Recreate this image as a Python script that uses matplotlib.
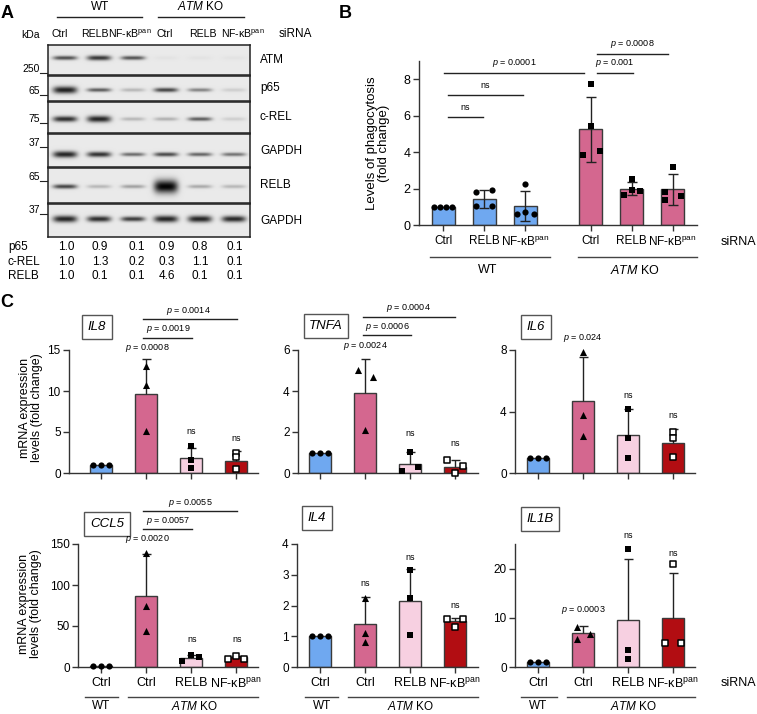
import numpy as np
import matplotlib
matplotlib.use('Agg')
import matplotlib.pyplot as plt
from matplotlib.lines import Line2D

plt.rcParams['font.family'] = ['Liberation Sans', 'DejaVu Sans']
plt.rcParams['mathtext.fontset'] = 'custom'
plt.rcParams['mathtext.rm'] = 'Liberation Sans'
plt.rcParams['mathtext.it'] = 'Liberation Sans:italic'

NFKB = 'NF-κB$^{\\mathrm{pan}}$'

# ---------------- data: panel A (western blot) ----------------
blot_names = ['ATM', 'p65', 'c-REL', 'GAPDH', 'RELB', 'GAPDH']
kda_marks = ['250', '65', '75', '37', '65', '37']
lane_labels = ['Ctrl', 'RELB', NFKB, 'Ctrl', 'RELB', NFKB]
band_atm = [0.68, 0.78, 0.66, 0.03, 0.03, 0.03]
band_p65 = [0.88, 0.62, 0.22, 0.72, 0.45, 0.12]
band_crel = [0.82, 0.86, 0.22, 0.25, 0.62, 0.12]
band_gapdh1 = [0.86, 0.80, 0.55, 0.70, 0.58, 0.52]
band_relb = [0.72, 0.22, 0.32, 1.00, 0.28, 0.22]
band_gapdh2 = [0.86, 0.82, 0.76, 0.86, 0.86, 0.84]
quant_names = ['p65', 'c-REL', 'RELB']
quant_p65 = [1.0, 0.9, 0.1, 0.9, 0.8, 0.1]
quant_crel = [1.0, 1.3, 0.2, 0.3, 1.1, 0.1]
quant_relb = [1.0, 0.1, 0.1, 4.6, 0.1, 0.1]

# ---------------- data: panel B (phagocytosis) ----------------
b_labels = ['Ctrl', 'RELB', NFKB, 'Ctrl', 'RELB', NFKB]
b_mean = [1.0, 1.42, 1.05, 5.25, 2.0, 1.95]
b_sd = [0.0, 0.5, 0.81, 1.78, 0.38, 0.83]
b_pts = [[1.0, 1.0, 1.0, 1.0],
         [1.79, 1.90, 1.02, 1.06],
         [2.26, 0.62, 0.71, 0.62],
         [7.73, 5.44, 3.84, 4.07],
         [2.54, 1.66, 1.94, 1.88],
         [3.21, 1.79, 1.35, 1.57]]

# ---------------- data: panel C (mRNA levels) ----------------
c_labels = ['Ctrl', 'Ctrl', 'RELB', NFKB]
il8_mean = [1.0, 9.65, 1.8, 1.5]
il8_err = [0.0, 4.25, 1.2, 1.2]
il8_pts = [[1, 1, 1], [13.05, 10.74, 5.07], [3.3, 1.6, 0.6], [2.5, 1.9, 0.45]]
tnfa_mean = [1.0, 3.92, 0.46, 0.30]
tnfa_err = [0.0, 1.62, 0.57, 0.32]
tnfa_pts = [[1, 1, 1], [5.02, 4.67, 2.09], [1.03, 0.29, 0.08], [0.62, 0.34, 0.0]]
il6_mean = [1.0, 4.71, 2.44, 1.95]
il6_err = [0.0, 2.86, 1.73, 0.93]
il6_pts = [[1, 1, 1], [7.85, 3.78, 2.4], [4.17, 2.29, 0.99], [2.66, 2.29, 1.04]]
ccl5_mean = [1.0, 87.0, 11.0, 12.0]
ccl5_err = [0.0, 51.0, 4.0, 2.0]
ccl5_pts = [[1, 1, 1], [138.7, 75.0, 43.8], [7.0, 14.2, 12.2], [10.2, 13.4, 10.2]]
il4_mean = [1.0, 1.40, 2.14, 1.50]
il4_err = [0.0, 0.88, 1.05, 0.10]
il4_pts = [[1, 1, 1], [2.24, 1.1, 0.8], [3.17, 2.24, 1.05], [1.55, 1.3, 1.55]]
il1b_mean = [1.0, 6.94, 9.56, 9.97]
il1b_err = [0.0, 1.41, 12.3, 9.1]
il1b_pts = [[1, 1, 1], [8.2, 5.7, 6.7], [23.9, 3.5, 1.7], [20.9, 4.85, 4.85]]

# ---------------- styles ----------------
WT_BLUE = '#6fa8f0'
KO_PINK = '#d4678f'
RELB_PINK = '#f7d0e1'
NF_RED = '#b20d12'
EDGE = '#3a3a3a'
INK = '#222222'

W, H = 757, 714
fig = plt.figure(figsize=(W / 100, H / 100), dpi=100)


def add_ax(x0, y0, x1, y1):
    return fig.add_axes([x0 / W, 1 - y1 / H, (x1 - x0) / W, (y1 - y0) / H])


def txt(x, y, s, size=8.5, ha='center', va='center', **kw):
    fig.text(x / W, 1 - y / H, s, fontsize=size, ha=ha, va=va, **kw)


def hline(x0, x1, y, lw=1.0, color=INK):
    fig.add_artist(Line2D([x0 / W, x1 / W], [1 - y / H, 1 - y / H], color=color, lw=lw))


def style_axis(ax):
    for side in ['top', 'right']:
        ax.spines[side].set_visible(False)
    for side in ['left', 'bottom']:
        ax.spines[side].set_color('#333333')
        ax.spines[side].set_linewidth(1.0)
    ax.tick_params(direction='out', length=4, width=1, color='#333333', labelsize=8.5, pad=2)


# ================= panel A =================
txt(7, 13, 'A', size=13, weight='bold')
LANE_X = [65, 99, 133, 166, 200, 234]
BLOT_X0, BLOT_X1 = 48, 250
blot_rows = [(45, 75, band_atm, 0.43), (76, 101, band_p65, 0.56),
             (102, 133, band_crel, 0.55), (134, 167, band_gapdh1, 0.62),
             (168, 203, band_relb, 0.53), (204, 237, band_gapdh2, 0.47)]

for k, (top, bot, dens, frac) in enumerate(blot_rows):
    ax = add_ax(BLOT_X0, top, BLOT_X1, bot)
    w = BLOT_X1 - BLOT_X0
    h = bot - top
    xx, yy = np.meshgrid(np.linspace(0, w, w * 3), np.linspace(0, h, h * 3))
    img = np.full(xx.shape, 0.915)
    cy = frac * h
    for cx, d in zip(LANE_X, dens):
        sy = 1.3 + 3.4 * d ** 8
        prof = np.exp(-((xx - (cx - BLOT_X0)) / 12.0) ** 4) * np.exp(-0.5 * ((yy - cy) / sy) ** 2)
        img -= 0.9 * d * prof
    ax.imshow(np.clip(img, 0, 1), cmap='gray', vmin=0, vmax=1, aspect='auto',
              extent=(0, w, h, 0), interpolation='bilinear')
    ax.set_xlim(0, w)
    ax.set_ylim(h, 0)
    ax.set_xticks([])
    ax.set_yticks([])
    for s in ax.spines.values():
        s.set_linewidth(1.1)
        s.set_color(INK)
    txt(260, (top + bot) / 2, blot_names[k], size=8.5, ha='left')

kda_y = [73, 95, 123, 147, 181, 214]
for mark, y in zip(kda_marks, kda_y):
    txt(40, y - 4, mark, size=7.5, ha='right')
    hline(40, 47, y, lw=0.8)
txt(30, 35, 'kDa', size=7.5)

lane_text_x = [60, 95, 130, 165, 203, 243]
for x, lab in zip(lane_text_x, lane_labels):
    txt(x, 34, lab, size=7.6)
txt(295, 34, 'siRNA', size=8.5)
hline(57, 142, 17)
hline(158, 244, 17)
txt(100, 7, 'WT', size=8.5)
txt(200, 7, '$ATM$ KO', size=8.5)

quant_x = [66, 100, 137, 167, 200, 235]
for name, vals, y in zip(quant_names, [quant_p65, quant_crel, quant_relb], [247, 262, 276]):
    txt(8, y, name, size=8.5, ha='left')
    for x, v in zip(quant_x, vals):
        txt(x, y, f'{v:.1f}', size=8.5)

# ================= panel B =================
txt(345, 13, 'B', size=13, weight='bold')
B_POS = np.array([0, 1, 2, 3.6, 4.6, 5.6])
B_UNIT = 41.0
b_colors = [WT_BLUE] * 3 + [KO_PINK] * 3
b_offsets = [[-9, -3, 3, 9], [-8, 8, -8, 8], [0, -8, 0, 9],
             [0, 0, -8, 9], [0, -8, 0, 8], [0, -8, -8, 8]]

axb = add_ax(419, 61, 697, 225)
axb.bar(B_POS, b_mean, width=23 / B_UNIT, color=b_colors, edgecolor=EDGE, lw=1, zorder=2)
for i in range(1, 6):
    lo, hi = b_mean[i] - b_sd[i], b_mean[i] + b_sd[i]
    axb.vlines(B_POS[i], lo, hi, color=INK, lw=1, zorder=3)
    axb.hlines([lo, hi], B_POS[i] - 0.12, B_POS[i] + 0.12, color=INK, lw=1, zorder=3)
for i in range(6):
    xs = B_POS[i] + np.array(b_offsets[i]) / B_UNIT
    axb.scatter(xs, b_pts[i], marker='o' if i < 3 else 's', s=20 if i < 3 else 18,
                color='black', zorder=4, clip_on=False, linewidths=0)
axb.set_xlim((419 - 443) / B_UNIT, (697 - 443) / B_UNIT)
axb.set_ylim(0, 9)
axb.set_yticks([0, 2, 4, 6, 8])
axb.set_xticks(B_POS)
axb.set_xticklabels(b_labels, fontsize=8.5)
style_axis(axb)
axb.tick_params(axis='x', pad=3, labelsize=8.5)
axb.tick_params(axis='y', labelsize=9)
txt(378, 143, 'Levels of phagocytosis\n(fold change)', size=9.5, rotation=90, linespacing=1.0)
txt(738, 242, 'siRNA', size=9)
hline(430, 550, 257, color='#444444')
hline(578, 697, 257, color='#444444')
txt(488, 270, 'WT', size=9)
txt(635, 270, '$ATM$ KO', size=9)

b_sig = [(448, 483, 117, 'ns'), (448, 523, 95, 'ns'), (444, 584, 73, '$p$ = 0.0001'),
         (597, 633, 73, '$p$ = 0.001'), (597, 668, 54, '$p$ = 0.0008')]
for x0, x1, y, s in b_sig:
    hline(x0, x1, y)
    txt((x0 + x1) / 2, y - 10, s, size=6.5)

# ================= panel C =================
txt(7, 302, 'C', size=13, weight='bold')
C_UNIT = 45.0
c_colors = [WT_BLUE, KO_PINK, RELB_PINK, NF_RED]
c_markers = [('o', 'black', 20), ('^', 'black', 26), ('s', 'black', 18), ('s', 'white', 18)]


def c_panel(frame, means, errs, pts, offs, ymax, yticks, show_labels):
    spine_x, bx0, right_x, top, bot = frame
    ax = add_ax(spine_x, top, right_x, bot)
    x = np.arange(4)
    ax.bar(x, means, width=22 / C_UNIT, color=c_colors, edgecolor=EDGE, lw=1, zorder=2)
    for i in range(1, 4):
        hi = means[i] + errs[i]
        ax.vlines(x[i], means[i], hi, color=INK, lw=1, zorder=3)
        ax.hlines(hi, x[i] - 0.1, x[i] + 0.1, color=INK, lw=1, zorder=3)
    for i in range(4):
        m, fc, s = c_markers[i]
        xs = x[i] + np.array(offs[i]) / C_UNIT
        ax.scatter(xs, pts[i], marker=m, s=s, facecolor=fc, edgecolor='black',
                   linewidths=1.1 if fc == 'white' else 0, zorder=4, clip_on=False)
    ax.set_xlim((spine_x - bx0) / C_UNIT, (right_x - bx0) / C_UNIT)
    ax.set_ylim(0, ymax)
    ax.set_yticks(yticks)
    ax.set_xticks(x)
    style_axis(ax)
    if show_labels:
        ax.set_xticklabels(c_labels, fontsize=9)
        ax.tick_params(axis='x', pad=3, labelsize=9)
    else:
        ax.set_xticklabels([])
    return ax


ROW1 = (350, 473)
ROW2 = (544, 667)
zero = [0, 0, 0]
spread = [-8, 0, 8]

c_panel((69, 101, 258) + ROW1, il8_mean, il8_err, il8_pts, [spread, zero, zero, zero], 15, [0, 5, 10, 15], False)
c_panel((298, 320, 478) + ROW1, tnfa_mean, tnfa_err, tnfa_pts, [spread, [-7, 8, 0], [0, 8, -8], [-8, 8, 0]], 6, [0, 2, 4, 6], False)
c_panel((515, 538, 695) + ROW1, il6_mean, il6_err, il6_pts, [spread, zero, zero, zero], 8, [0, 4, 8], False)
c_panel((78, 101, 258) + ROW2, ccl5_mean, ccl5_err, ccl5_pts, [spread, zero, [-9, 0, 8], spread], 150, [0, 50, 100, 150], True)
c_panel((297, 320, 478) + ROW2, il4_mean, il4_err, il4_pts, [spread, zero, zero, spread], 4, [0, 1, 2, 3, 4], True)
c_panel((515, 538, 695) + ROW2, il1b_mean, il1b_err, il1b_pts, [spread, [-6, -6, 7], zero, [0, -8, 8]], 25, [0, 10, 20], True)

# gene boxes
box = dict(boxstyle='square,pad=0.42', fc='white', ec='#555555', lw=1)
for name, x, y in [('IL8', 97, 327), ('TNFA', 326, 326), ('IL6', 536, 327),
                   ('CCL5', 107, 524), ('IL4', 317, 518), ('IL1B', 540, 519)]:
    txt(x, y, name, size=9.5, style='italic', bbox=box)

ylab = 'mRNA expression\nlevels (fold change)'
txt(31, 408, ylab, size=9, rotation=90, linespacing=1.0)
txt(30, 604, ylab, size=9, rotation=90, linespacing=1.0)

# significance annotations
c_lines = [(143, 237, 319), (143, 192, 338), (363, 455, 317), (363, 411, 335),
           (143, 237, 511), (143, 192, 529)]
for x0, x1, y in c_lines:
    hline(x0, x1, y)
c_ptext = [(188, 311, '0.0014'), (168, 329, '0.0019'), (147, 348, '0.0008'),
           (408, 308, '0.0004'), (387, 327, '0.0006'), (365, 346, '0.0024'),
           (583, 338, '0.024'), (190, 503, '0.0055'), (168, 521, '0.0057'),
           (147, 539, '0.0020'), (583, 610, '0.0003')]
for x, y, v in c_ptext:
    txt(x, y, '$p$ = ' + v, size=6.5)
for x, y in [(191, 431), (236, 438), (410, 434), (455, 443), (628, 395), (673, 415),
             (192, 640), (237, 640), (365, 583), (410, 558), (455, 606), (628, 535), (673, 553)]:
    txt(x, y, 'ns', size=6.5)

# group labels below bottom row
for wt, ko in [((85, 118, 101), (128, 258, 194)), ((305, 338, 322), (348, 478, 410)),
               ((521, 557, 538), (567, 695, 633))]:
    hline(wt[0], wt[1], 697, color='#444444')
    hline(ko[0], ko[1], 697, color='#444444')
    txt(wt[2], 706, 'WT', size=8.5)
    txt(ko[2], 706, '$ATM$ KO', size=8.5)
txt(738, 683, 'siRNA', size=9)

fig.savefig('out.png', dpi=100)
